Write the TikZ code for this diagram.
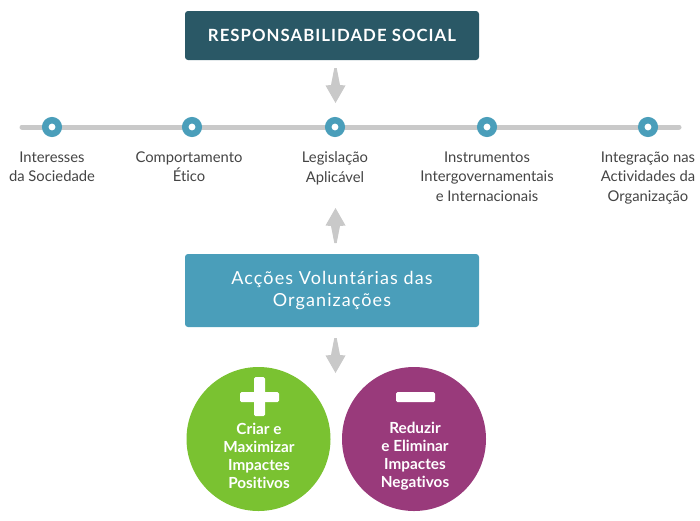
\documentclass[tikz,border=0pt]{standalone}
\usepackage{fontspec}
\setmainfont{Lato}[Ligatures={NoCommon,TeX}]
\newfontfamily\spaced{Lato}[LetterSpace=6,Ligatures={NoCommon,TeX}]
\definecolor{dteal}{HTML}{2A5866}
\definecolor{lteal}{HTML}{4A9EBA}
\definecolor{lgray}{HTML}{C9C9C9}
\definecolor{cgreen}{HTML}{7AC231}
\definecolor{cpurple}{HTML}{993A7B}
\definecolor{txt}{HTML}{444444}
\tikzset{
  hbox/.style={rectangle, rounded corners=3pt, inner sep=0pt, minimum width=294pt, align=center, text=white},
  dot/.style={circle, draw=lteal, line width=6.5pt, fill=white, minimum size=13.5pt, inner sep=0pt},
  lbl/.style={anchor=north, inner sep=0pt, align=center, text=txt, font=\fontsize{14.8}{19.5}\selectfont},
  big/.style={circle, minimum size=144pt, inner sep=0pt},
  ctext/.style={align=center, text=white, inner sep=0pt, font=\fontsize{15.3}{18.2}\selectfont\bfseries},
  bar/.style={fill=white, rounded corners=1.5pt},
  garrow/.pic={\fill[lgray] (-1.2,0) -- (1.2,0) -- (4.5,17) -- (10,17.5) -- (0,35) -- (-10,17.5) -- (-4.5,17) -- cycle;}
}
\begin{document}
\begin{tikzpicture}[x=1pt, y=-1pt]
\useasboundingbox (0,0) rectangle (700,520);
% top box
\node[hbox, fill=dteal, minimum height=49pt, font=\fontsize{16.8}{20}\selectfont\bfseries\spaced] (rs) at (332,35.5) {RESPONSABILIDADE SOCIAL};
\pic at (335.5,68) {garrow};
% timeline
\coordinate (tl) at (22,127);
\coordinate (tr) at (679,127);
\draw[lgray, line width=5pt, line cap=round] (tl) -- (tr);
\node[dot] (d1) at (52,127) {};
\node[dot] (d2) at (192,127) {};
\node[dot] (d3) at (335,127) {};
\node[dot] (d4) at (487,127) {};
\node[dot] (d5) at (648,127) {};
\node[lbl] (l1) at (52,151.5) {Interesses\\da Sociedade};
\node[lbl] (l2) at (189,151.5) {Comportamento\\Ético};
\node[lbl] (l3) at (335,151.5) {Legislação\\Aplicável};
\node[lbl] (l4) at (487,151.5) {Instrumentos\\Intergovernamentais\\e Internacionais};
\node[lbl] (l5) at (648,151.5) {Integração nas\\Actividades da\\Organização};
% up arrow
\pic[rotate=180] at (335.5,243) {garrow};
% middle box
\node[hbox, fill=lteal, minimum height=73pt, font=\fontsize{18}{22}\selectfont\spaced] (av) at (332,290.5) {Acções Voluntárias das\\Organizações};
\pic at (335.5,338) {garrow};
% circles
\node[big, fill=cgreen] (pos) at (258.5,439) {};
\node[big, fill=cpurple] (neg) at (414,439) {};
\fill[bar] (254,377) rectangle (265,416);
\fill[bar] (240,392) rectangle (279,402);
\fill[bar] (396,392) rectangle (435,402);
\node[ctext] (pt) at (259,456) {Criar e\\Maximizar\\Impactes\\Positivos};
\node[ctext] (nt) at (415,456) {Reduzir\\e Eliminar\\Impactes\\Negativos};
\end{tikzpicture}
\end{document}
